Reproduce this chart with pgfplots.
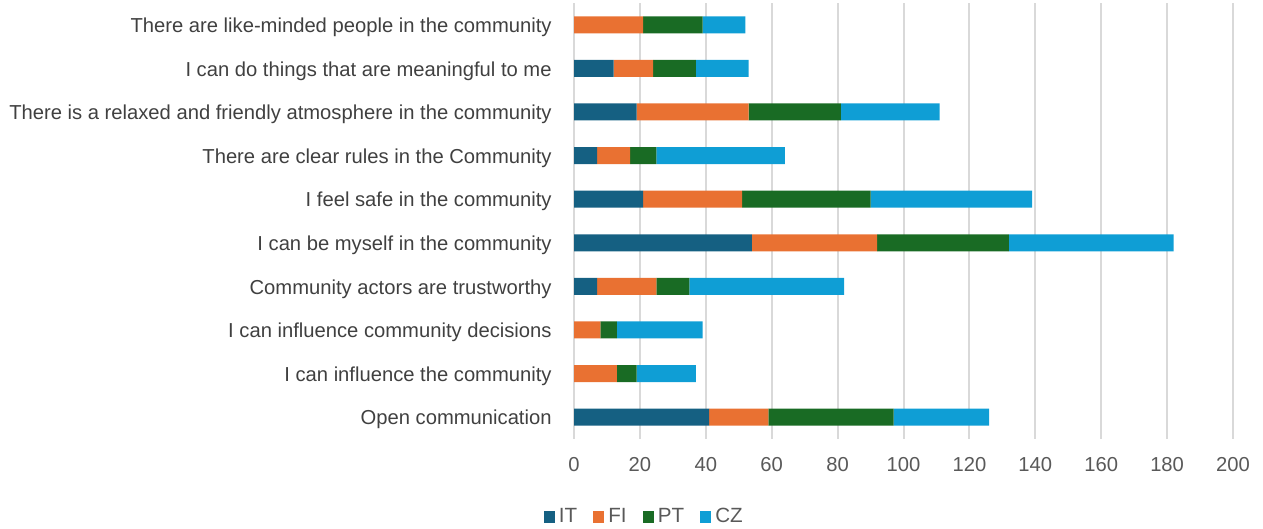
\documentclass[border=0pt]{standalone}
\usepackage{pgfplots}
\pgfplotsset{compat=1.18}
\usepackage{fontspec}
\setmainfont{Liberation Sans}
\definecolor{cIT}{HTML}{156082}
\definecolor{cFI}{HTML}{E97132}
\definecolor{cPT}{HTML}{196B24}
\definecolor{cCZ}{HTML}{0F9ED5}
\definecolor{lbl}{HTML}{404040}
\definecolor{tck}{HTML}{595959}
\definecolor{grd}{HTML}{D9D9D9}
\begin{document}
\fontsize{10}{12}\selectfont
\begin{tikzpicture}
\useasboundingbox (0,0) rectangle (631.5pt,264.5pt);
\begin{axis}[
  at={(287pt,45pt)}, anchor=south west,
  scale only axis, width=329.5pt, height=218pt,
  xbar stacked, bar width=8.5pt,
  xmin=0, xmax=200, ymin=-0.5, ymax=9.5,
  xtick={0,20,...,200},
  ytick={0,...,9},
  yticklabels={Open communication,I can influence the community,I can influence community decisions,Community actors are trustworthy,I can be myself in the community,I feel safe in the community,There are clear rules in the Community,There is a relaxed and friendly atmosphere in the community,I can do things that are meaningful to me,There are like-minded people in the community},
  major tick length=0pt,
  axis line style={draw=none},
  xmajorgrids, grid style={grd, line width=1pt},
  ticklabel style={font=\fontsize{10.1}{12}\selectfont},
  yticklabel style={text=lbl, inner sep=0pt, xshift=-11pt, yshift=-1.2pt},
  xticklabel style={text=tck, inner sep=0pt, yshift=-9pt},
  /pgf/number format/assume math mode=true,
  legend style={at={(0.108,-0.179)}, anchor=center, draw=none, fill=none,
    legend columns=4, font=\fontsize{10.3}{12}\selectfont, text=tck,
    /tikz/every even column/.append style={column sep=6pt}},
  legend image code/.code={\fill[#1] (0pt,-2.8pt) rectangle (5.6pt,2.8pt);},
]
\addplot[fill=cIT, draw=none] coordinates {(41,0) (0,1) (0,2) (7,3) (54,4) (21,5) (7,6) (19,7) (12,8) (0,9)};
\addplot[fill=cFI, draw=none] coordinates {(18,0) (13,1) (8,2) (18,3) (38,4) (30,5) (10,6) (34,7) (12,8) (21,9)};
\addplot[fill=cPT, draw=none] coordinates {(38,0) (6,1) (5,2) (10,3) (40,4) (39,5) (8,6) (28,7) (13,8) (18,9)};
\addplot[fill=cCZ, draw=none] coordinates {(29,0) (18,1) (26,2) (47,3) (50,4) (49,5) (39,6) (30,7) (16,8) (13,9)};
\legend{IT,FI,PT,CZ}
\end{axis}
\end{tikzpicture}
\end{document}
